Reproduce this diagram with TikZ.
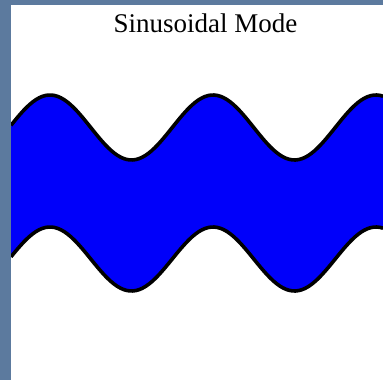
\documentclass[tikz,border=0pt]{standalone}
\usepackage{fontspec}
\setmainfont{Liberation Serif}
\definecolor{slidebg}{RGB}{92,122,158}
\definecolor{bandblue}{RGB}{0,0,250}
\begin{document}
\begin{tikzpicture}[x=1pt,y=-1pt,
  wave/.style={line width=3.6pt,black,line join=round},
  titletext/.style={font=\fontsize{27}{30}\selectfont,anchor=base,inner sep=0pt}]
\useasboundingbox (0,0) rectangle (383,380);
\fill[slidebg] (0,0) rectangle (383,380);
\fill[white] (11,5) rectangle (383,380);
\node[titletext] (title) at (205.5,32) {Sinusoidal Mode};
\fill[bandblue] plot[domain=11:383,samples=120] (\x,{127.5-32.5*cos(2.20859*(\x-50))})
  -- plot[domain=383:11,samples=120] (\x,{259-32*cos(2.20859*(\x-50))}) -- cycle;
\draw[wave] plot[domain=11:383,samples=120] (\x,{127.5-32.5*cos(2.20859*(\x-50))});
\draw[wave] plot[domain=11:383,samples=120] (\x,{259-32*cos(2.20859*(\x-50))});
\fill[slidebg] (0,0) rectangle (11,380);
\end{tikzpicture}
\end{document}
